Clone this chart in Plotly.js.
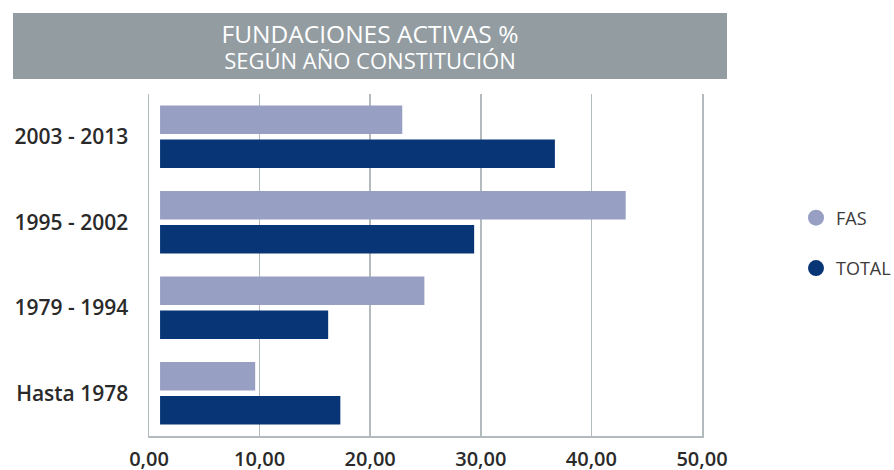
<!DOCTYPE html>
<html>
<head>
<meta charset="utf-8">
<script src="https://cdn.plot.ly/plotly-3.0.1.min.js"></script>
<style>html,body{margin:0;padding:0;background:#fff;}#chart{width:894px;height:470px;}</style>
</head>
<body>
<div id="chart"></div>
<script>
// Data
const categories = ['2003 - 2013', '1995 - 2002', '1979 - 1994', 'Hasta 1978'];
const fasValues = [22.9, 43.1, 24.9, 9.6];
const totalValues = [36.7, 29.4, 16.2, 17.3];
const seriesNames = ['FAS', 'TOTAL'];
const tickValues = [0, 10, 20, 30, 40, 50];
const tickLabels = ['0,00', '10,00', '20,00', '30,00', '40,00', '50,00'];
const titleLine1 = 'FUNDACIONES ACTIVAS %';
const titleLine2 = 'SEGÚN AÑO CONSTITUCIÓN';

// Style
const BAR_BASE = 1; // bars in the reference start slightly right of the axis
const COLORS = ['#979fc3', '#083575'];
const FONT = 'Open Sans, Noto Sans, sans-serif';
const GRID = '#b4bbbe';

function barTrace(name, vals, color) {
  return {
    type: 'bar', orientation: 'h', name: name,
    y: categories, x: vals.map(v => v - BAR_BASE), base: BAR_BASE,
    marker: {color: color}, showlegend: false, hoverinfo: 'skip'
  };
}
function legendTrace(name, color, group) {
  return {
    type: 'scatter', mode: 'markers', name: name, x: [null], y: [null],
    marker: {color: color, size: 20, symbol: 'circle'},
    legendgroup: group, showlegend: true
  };
}

const data = [
  barTrace(seriesNames[0], fasValues, COLORS[0]),
  barTrace(seriesNames[1], totalValues, COLORS[1]),
  legendTrace(seriesNames[0], COLORS[0], 'g1'),
  legendTrace(seriesNames[1], COLORS[1], 'g2')
];

const layout = {
  width: 894, height: 470,
  margin: {l: 149, r: 192, t: 94, b: 34, pad: 0},
  paper_bgcolor: '#ffffff', plot_bgcolor: '#ffffff',
  font: {family: FONT, color: '#333333'},
  barmode: 'group', bargap: 0.205, bargroupgap: 0.156,
  showlegend: true,
  xaxis: {
    range: [0, 50], tickvals: tickValues, ticktext: tickLabels,
    showgrid: true, gridcolor: GRID, gridwidth: 1.5,
    zeroline: false, showline: true, linecolor: GRID, linewidth: 1.5,
    ticks: '', ticklabelstandoff: 4,
    tickfont: {family: FONT, size: 20, color: '#2a2a2a', weight: 600},
    fixedrange: true
  },
  yaxis: {
    type: 'category', categoryorder: 'array', categoryarray: categories,
    autorange: 'reversed', showgrid: false, zeroline: false,
    showline: true, mirror: true, linecolor: GRID, linewidth: 1.5,
    ticks: '', ticklabelstandoff: 15,
    tickfont: {family: FONT, size: 21, color: '#2a2a2a', weight: 600},
    fixedrange: true
  },
  legend: {
    xref: 'container', yref: 'container',
    x: 796 / 894, xanchor: 'left', y: (470 - 243) / 470, yanchor: 'middle',
    font: {family: FONT, size: 18, color: '#3a3a3a'},
    traceorder: 'grouped', tracegroupgap: 24, itemsizing: 'trace',
    bgcolor: 'rgba(0,0,0,0)'
  },
  annotations: [{
    xref: 'paper', yref: 'paper', x: (13 - 149) / 553, y: (436 - 13) / 342,
    xanchor: 'left', yanchor: 'top', width: 714, height: 66,
    align: 'center', valign: 'middle', bgcolor: '#929ca1',
    borderpad: 0, borderwidth: 0, showarrow: false,
    text: '<span style="font-size:24.5px">' + titleLine1 + '</span><br><span style="font-size:22px">' + titleLine2 + '</span>',
    font: {family: FONT, size: 20.5, color: '#ffffff', weight: 500}
  }]
};

Plotly.newPlot('chart', data, layout, {displayModeBar: false, staticPlot: true});
</script>
</body>
</html>
